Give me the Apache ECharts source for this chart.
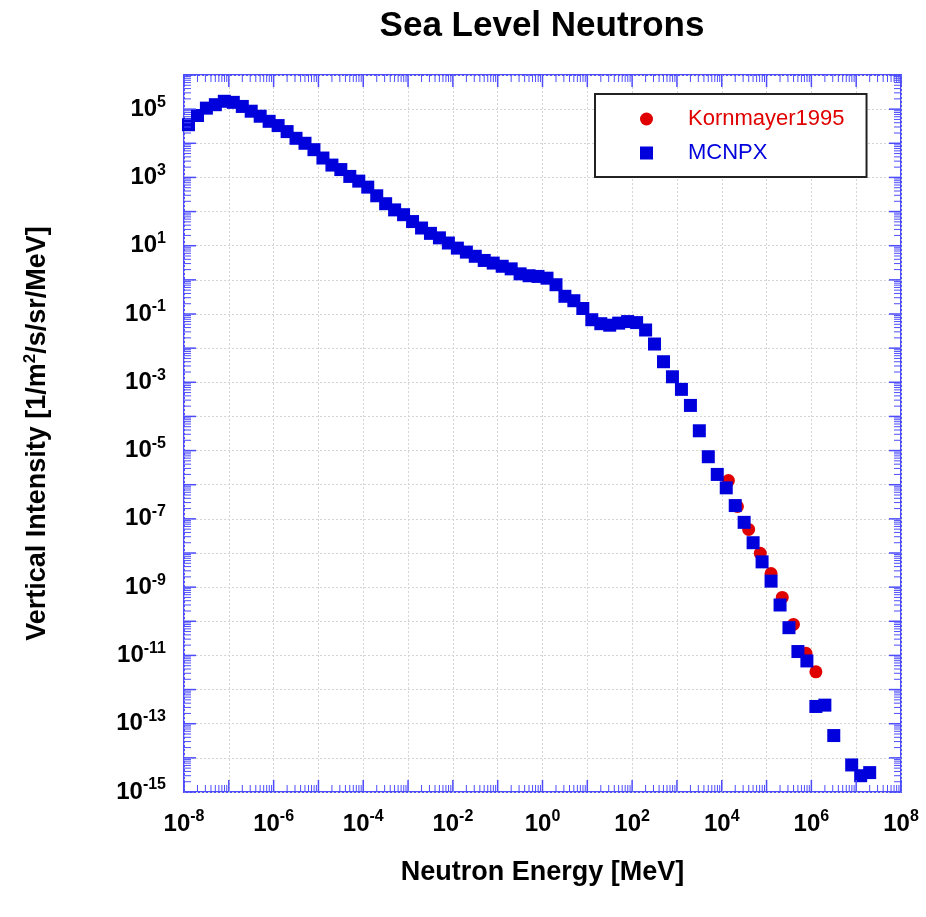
<!DOCTYPE html>
<html><head><meta charset="utf-8">
<script src="https://cdn.jsdelivr.net/npm/echarts@6/dist/echarts.min.js"></script>
<style>html,body{margin:0;padding:0;background:#fff}#c{width:926px;height:917px}</style>
</head><body><div id="c"></div>
<script>
const titleText = 'Sea Level Neutrons';
const xAxisName = 'Neutron Energy [MeV]';
const seriesNames = ['Kornmayer1995', 'MCNPX'];

// MCNPX (blue squares): energy [MeV], intensity
const mcnpxEnergy = [
  1.26e-8, 2.0e-8, 3.16e-8, 5.01e-8, 7.94e-8,
  1.26e-7, 2.0e-7, 3.16e-7, 5.01e-7, 7.94e-7,
  1.26e-6, 2.0e-6, 3.16e-6, 5.01e-6, 7.94e-6,
  1.26e-5, 2.0e-5, 3.16e-5, 5.01e-5, 7.94e-5,
  1.26e-4, 2.0e-4, 3.16e-4, 5.01e-4, 7.94e-4,
  1.26e-3, 2.0e-3, 3.16e-3, 5.01e-3, 7.94e-3,
  1.26e-2, 2.0e-2, 3.16e-2, 5.01e-2, 7.94e-2,
  0.126, 0.2, 0.316, 0.501, 0.794,
  1.26, 2.0, 3.16, 5.01, 7.94,
  12.6, 20.0, 31.6, 50.1, 79.4,
  126, 200, 316, 501, 794,
  1.26e3, 2.0e3, 3.16e3, 5.01e3, 7.94e3,
  1.26e4, 2.0e4, 3.16e4, 5.01e4, 7.94e4,
  1.26e5, 2.0e5, 3.16e5, 5.01e5, 7.94e5,
  1.26e6, 2.0e6, 3.16e6, 7.94e6,
  1.26e7, 2.0e7
];
const mcnpxIntensity = [
  3.5e4, 6.5e4, 1.07e5, 1.35e5, 1.7e5,
  1.58e5, 1.2e5, 8.7e4, 6.2e4, 4.4e4,
  3.3e4, 2.2e4, 1.4e4, 1.0e4, 6.5e3,
  3.7e3, 2.3e3, 1.7e3, 1.07e3, 7.8e2,
  5.2e2, 2.9e2, 1.7e2, 1.12e2, 81,
  51, 33, 23, 17, 12,
  8.5, 6.5, 4.9, 3.7, 3.1,
  2.5, 2.1, 1.5, 1.32, 1.26,
  1.12, 0.72, 0.33, 0.245, 0.145,
  0.068, 0.052, 0.047, 0.054, 0.060,
  0.056, 0.034, 0.0132, 4.0e-3, 1.45e-3,
  6.2e-4, 2.1e-4, 3.8e-5, 6.6e-6, 2.0e-6,
  8.1e-7, 2.45e-7, 7.9e-8, 2.0e-8, 5.5e-9,
  1.5e-9, 3.0e-10, 6.5e-11, 1.3e-11, 6.9e-12,
  3.2e-13, 3.5e-13, 4.5e-14, 6.2e-15,
  3.0e-15, 3.7e-15
];

// Kornmayer1995 (red circles)
const kornEnergy = [1.41e4, 2.24e4, 3.98e4, 7.24e4, 1.26e5, 2.24e5, 3.98e5, 7.59e5, 1.26e6];
const kornIntensity = [1.32e-6, 2.3e-7, 4.9e-8, 9.8e-9, 2.5e-9, 5.0e-10, 8.1e-11, 1.15e-11, 3.3e-12];

// axis decoration
const xLabelExps = [-8, -6, -4, -2, 0, 2, 4, 6, 8];
const yLabelExps = [5, 3, 1, -1, -3, -5, -7, -9, -11, -13, -15];
const xMajorExps = [-8,-7,-6,-5,-4,-3,-2,-1,0,1,2,3,4,5,6,7,8];
const yMajorExps = [-15,-14,-13,-12,-11,-10,-9,-8,-7,-6,-5,-4,-3,-2,-1,0,1,2,3,4,5,6];
const minorMults = [2,3,4,5,6,7,8,9];
const X_MIN = 1e-8, X_MAX = 1e8, Y_MIN = 1e-15, Y_MAX = 1e6;

const F = '"Liberation Sans", Arial, sans-serif';
const AXIS_BLUE = '#4d4dff';

const tickData = [];
xMajorExps.forEach(k => {
  tickData.push([Math.pow(10, k), Y_MIN, 0, 1]);
  if (k < 8) minorMults.forEach(m => tickData.push([m * Math.pow(10, k), Y_MIN, 0, 0]));
});
yMajorExps.forEach(k => {
  tickData.push([X_MIN, Math.pow(10, k), 1, 1]);
  if (k < 6) minorMults.forEach(m => tickData.push([X_MIN, m * Math.pow(10, k), 1, 0]));
});

function renderTick(params, api) {
  const kind = api.value(2), major = api.value(3);
  const len = major ? 12 : 7;
  const style = { stroke: AXIS_BLUE, lineWidth: major ? 1.5 : 1 };
  if (kind === 0) {
    const x = api.value(0);
    const b = api.coord([x, Y_MIN]), t = api.coord([x, Y_MAX]);
    return { type: 'group', children: [
      { type: 'line', shape: { x1: b[0], y1: b[1], x2: b[0], y2: b[1] - len }, style },
      { type: 'line', shape: { x1: t[0], y1: t[1], x2: t[0], y2: t[1] + len }, style }
    ]};
  } else {
    const y = api.value(1);
    const l = api.coord([X_MIN, y]), r = api.coord([X_MAX, y]);
    return { type: 'group', children: [
      { type: 'line', shape: { x1: l[0], y1: l[1], x2: l[0] + len, y2: l[1] }, style },
      { type: 'line', shape: { x1: r[0], y1: r[1], x2: r[0] - len, y2: r[1] }, style }
    ]};
  }
}

function expOf(v) { return Math.round(Math.log10(v)); }
const labelRich = {
  b: { fontFamily: F, fontSize: 24, fontWeight: 'bold', color: '#000', lineHeight: 30 },
  e: { fontFamily: F, fontSize: 16, fontWeight: 'bold', color: '#000', verticalAlign: 'top', lineHeight: 16 }
};

const chart = echarts.init(document.getElementById('c'));
chart.setOption({
  animation: false,
  backgroundColor: '#fff',
  title: {
    text: titleText, left: 542, textAlign: 'center', top: 9, padding: 0,
    textStyle: { fontFamily: F, fontSize: 35, fontWeight: 'bold', color: '#000' }
  },
  legend: {
    orient: 'vertical', left: 595, top: 94,
    padding: [12, 22, 11, 45],
    itemWidth: 13, itemHeight: 13, itemGap: 8,
    borderColor: '#222', borderWidth: 2, backgroundColor: '#fff',
    textStyle: { fontFamily: F, fontSize: 22, lineHeight: 26, padding: [0, 0, 0, 30] },
    data: [
      { name: seriesNames[0], icon: 'circle', textStyle: { color: '#e00000' } },
      { name: seriesNames[1], icon: 'rect', textStyle: { color: '#0000dd' } }
    ]
  },
  grid: { left: 184, top: 75, width: 717, height: 717, show: true, borderColor: AXIS_BLUE, borderWidth: 2, backgroundColor: 'transparent' },
  xAxis: {
    type: 'log', logBase: 10, min: X_MIN, max: X_MAX, interval: 1, splitNumber: 16,
    name: xAxisName, nameLocation: 'middle', nameGap: 67,
    nameTextStyle: { fontFamily: F, fontSize: 27, fontWeight: 'bold', color: '#000' },
    axisLine: { show: false }, axisTick: { show: false },
    splitLine: { show: true, lineStyle: { color: '#d4d4d4', type: [2, 2], width: 1 } },
    axisLabel: {
      margin: 17, showMinLabel: true, showMaxLabel: true,
      formatter: v => { const e = expOf(v); return xLabelExps.includes(e) ? '{b|10}{e|' + e + '}' : ''; },
      rich: labelRich
    }
  },
  yAxis: {
    type: 'log', logBase: 10, min: Y_MIN, max: Y_MAX, interval: 1, splitNumber: 21,
    name: '{n|Vertical Intensity [1/m}{s|2}{n|/s/sr/MeV]}', nameLocation: 'middle', nameGap: 130,
    nameTextStyle: {
      fontFamily: F, fontSize: 27, fontWeight: 'bold', color: '#000',
      rich: {
        n: { fontFamily: F, fontSize: 27, fontWeight: 'bold', color: '#000', lineHeight: 32 },
        s: { fontFamily: F, fontSize: 17, fontWeight: 'bold', color: '#000', verticalAlign: 'top', lineHeight: 17 }
      }
    },
    axisLine: { show: false }, axisTick: { show: false },
    splitLine: { show: true, lineStyle: { color: '#d4d4d4', type: [2, 2], width: 1 } },
    axisLabel: {
      margin: 18, showMinLabel: true, showMaxLabel: true,
      formatter: v => { const e = expOf(v); return yLabelExps.includes(e) ? '{b|10}{e|' + e + '}' : ''; },
      rich: labelRich
    }
  },
  series: [
    {
      name: seriesNames[0], type: 'scatter', symbol: 'circle', symbolSize: 13, clip: false, z: 2,
      itemStyle: { color: '#e00000', opacity: 1 },
      data: kornEnergy.map((x, i) => [x, kornIntensity[i]])
    },
    {
      name: seriesNames[1], type: 'scatter', symbol: 'rect', symbolSize: 13, clip: false, z: 3,
      itemStyle: { color: '#0000dd', opacity: 1 },
      data: mcnpxEnergy.map((x, i) => [x, mcnpxIntensity[i]])
    },
    {
      type: 'custom', silent: true, z: 4, clip: false,
      dimensions: ['x', 'y', 'kind', 'major'],
      encode: { x: 'x', y: 'y' },
      renderItem: renderTick,
      data: tickData
    }
  ]
});
</script></body></html>
